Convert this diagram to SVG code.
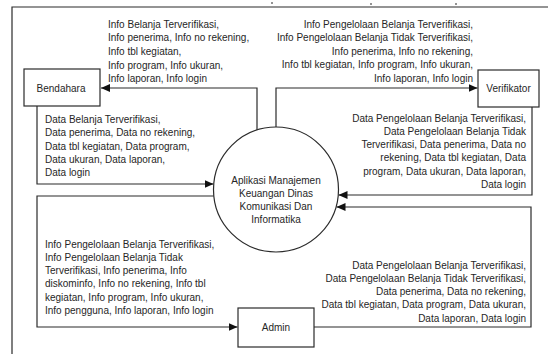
<svg xmlns="http://www.w3.org/2000/svg" width="548" height="354" viewBox="0 0 548 354">
<style>
.t{font-family:"Liberation Sans",Arial,sans-serif;font-size:10px;fill:#262626}
.e{text-anchor:end}
.m{text-anchor:middle}
.ln{fill:none;stroke:#2b2b2b;stroke-width:1.2}
.box{fill:#fff;stroke:#2b2b2b;stroke-width:1.2}
</style>
<defs>
<marker id="ah" markerWidth="9" markerHeight="8" refX="9" refY="4" orient="auto" markerUnits="userSpaceOnUse">
<path d="M0,0 L9,4 L0,8 z" fill="#111"/>
</marker>
</defs>
<rect width="548" height="354" fill="#fff"/>
<g id="frame" class="ln">
<path d="M12,354 V7 H548"/>
<path d="M271,3 h2 M370,4 h2 M455,4 h2"/>
</g>
<g id="connectors" class="ln">
<path d="M257,130 V88 H101" marker-end="url(#ah)"/>
<path d="M276,127 V88 H477.5" marker-end="url(#ah)"/>
<path d="M37,106 V184 H213.5" marker-end="url(#ah)"/>
<path d="M213.8,196 H37 V327 H237.5" marker-end="url(#ah)"/>
<path d="M532,107 V195 H338.5" marker-end="url(#ah)"/>
<path d="M314,327 H531 V207 H336.5" marker-end="url(#ah)"/>
</g>
<g id="process">
<circle cx="276" cy="189.5" r="62.5" class="box"/>
<text class="t m" x="276" y="183.5">Aplikasi Manajemen</text>
<text class="t m" x="276" y="196.5">Keuangan Dinas</text>
<text class="t m" x="276" y="209.5">Komunikasi Dan</text>
<text class="t m" x="276" y="222.5">Informatika</text>
</g>
<g id="bendahara">
<rect x="24" y="69" width="76" height="37" class="box"/>
<text class="t m" x="61" y="91.5">Bendahara</text>
</g>
<g id="verifikator">
<rect x="478" y="70" width="61" height="37" class="box"/>
<text class="t m" x="508.5" y="92">Verifikator</text>
</g>
<g id="admin">
<rect x="238" y="308" width="76" height="39" class="box"/>
<text class="t m" x="276" y="331">Admin</text>
</g>
<g id="labels">
<text class="t" x="108" y="27.5">Info Belanja Terverifikasi,</text>
<text class="t" x="108" y="41.2">Info penerima, Info no rekening,</text>
<text class="t" x="108" y="54.9">Info tbl kegiatan,</text>
<text class="t" x="108" y="68.6">Info program, Info ukuran,</text>
<text class="t" x="108" y="82.3">Info laporan, Info login</text>

<text class="t e" x="473" y="27.5">Info Pengelolaan Belanja Terverifikasi,</text>
<text class="t e" x="473" y="41">Info Pengelolaan Belanja Tidak Terverifikasi,</text>
<text class="t e" x="473" y="54.5">Info penerima, Info no rekening,</text>
<text class="t e" x="473" y="68">Info tbl kegiatan, Info program, Info ukuran,</text>
<text class="t e" x="473" y="81.5">Info laporan, Info login</text>

<text class="t" x="45" y="123">Data Belanja Terverifikasi,</text>
<text class="t" x="45" y="136.3">Data penerima, Data no rekening,</text>
<text class="t" x="45" y="149.6">Data tbl kegiatan, Data program,</text>
<text class="t" x="45" y="162.9">Data ukuran, Data laporan,</text>
<text class="t" x="45" y="176.2">Data login</text>

<text class="t e" x="526" y="121.5">Data Pengelolaan Belanja Terverifikasi,</text>
<text class="t e" x="526" y="134.8">Data Pengelolaan Belanja Tidak</text>
<text class="t e" x="526" y="148.1">Terverifikasi, Data penerima, Data no</text>
<text class="t e" x="526" y="161.4">rekening, Data tbl kegiatan, Data</text>
<text class="t e" x="526" y="174.7">program, Data ukuran, Data laporan,</text>
<text class="t e" x="526" y="188">Data login</text>

<text class="t" x="45" y="247.5">Info Pengelolaan Belanja Terverifikasi,</text>
<text class="t" x="45" y="260.8">Info Pengelolaan Belanja Tidak</text>
<text class="t" x="45" y="274.1">Terverifikasi, Info penerima, Info</text>
<text class="t" x="45" y="287.4">diskominfo, Info no rekening, Info tbl</text>
<text class="t" x="45" y="300.7">kegiatan, Info program, Info ukuran,</text>
<text class="t" x="45" y="314">Info pengguna, Info laporan, Info login</text>

<text class="t e" x="526" y="268.5">Data Pengelolaan Belanja Terverifikasi,</text>
<text class="t e" x="526" y="281.8">Data Pengelolaan Belanja Tidak Terverifikasi,</text>
<text class="t e" x="526" y="295.1">Data penerima, Data no rekening,</text>
<text class="t e" x="526" y="308.4">Data tbl kegiatan, Data program, Data ukuran,</text>
<text class="t e" x="526" y="321.7">Data laporan, Data login</text>
</g>
</svg>
